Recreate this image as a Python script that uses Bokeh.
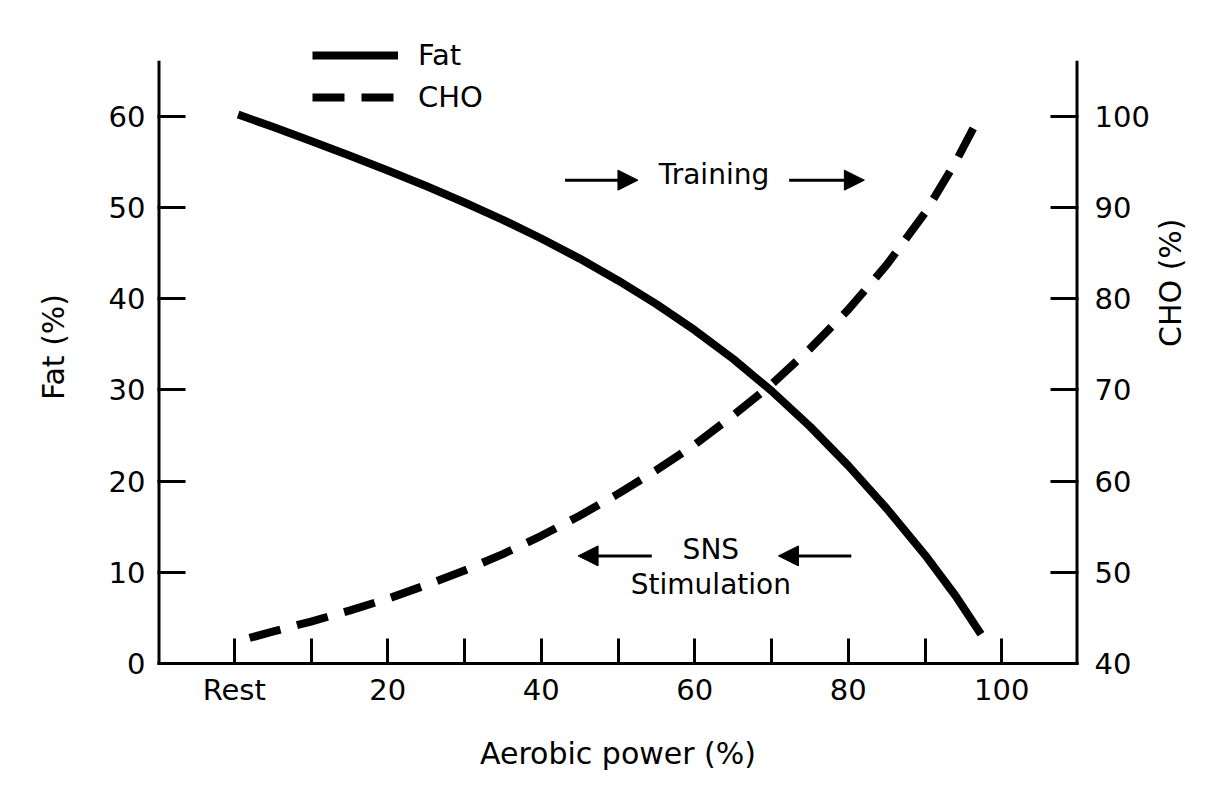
import math
from bokeh.plotting import figure
from bokeh.models import (Range1d, LinearAxis, FixedTicker, Arrow, NormalHead,
                          Label, Legend, LegendItem, ColumnDataSource)
from bokeh.embed import file_html
from bokeh.resources import INLINE

# ---- data ----
fat_x = [0.5, 5, 10, 15, 20, 25, 30, 35, 40, 45, 50, 55, 60, 65, 70, 75, 80, 85, 90, 94, 97.3]
fat_pct = [60.2, 58.85, 57.3, 55.7, 54.05, 52.35, 50.55, 48.65, 46.6, 44.4, 42.0, 39.4, 36.55,
           33.4, 29.9, 26.0, 21.7, 17.0, 11.9, 7.4, 3.2]
cho_x = [2, 5, 10, 15, 20, 25, 30, 35, 40, 45, 50, 55, 60, 65, 70, 75, 80, 85, 90, 94, 97.3]
cho_pct = [42.8, 43.5, 44.6, 45.8, 47.1, 48.6, 50.2, 52.0, 54.0, 56.2, 58.6, 61.2, 64.0, 67.2,
           70.6, 74.5, 78.8, 83.7, 89.4, 95.0, 100.3]
x_ticks = [0, 10, 20, 30, 40, 50, 60, 70, 80, 90, 100]
x_tick_labels = {0: "Rest", 10: "", 20: "20", 30: "", 40: "40", 50: "", 60: "60",
                 70: "", 80: "80", 90: "", 100: "100"}
fat_ticks = [0, 10, 20, 30, 40, 50, 60]
cho_ticks = [40, 50, 60, 70, 80, 90, 100]

FONT = "DejaVu Sans"
X0, X1 = -10, 110
FAT_TOP = 66.1          # where the drawn y axis lines end
FAT_RANGE = (0, 69.41)
CHO_RANGE = (40, 109.41)

p = figure(width=1228, height=805, output_backend="svg", toolbar_location=None,
           x_range=Range1d(X0, X1), y_range=Range1d(*FAT_RANGE),
           min_border_left=157, min_border_right=150, min_border_top=30, min_border_bottom=142)
p.extra_y_ranges = {"cho": Range1d(*CHO_RANGE)}
p.xgrid.visible = False
p.ygrid.visible = False
p.outline_line_color = None
p.background_fill_color = "white"
p.border_fill_color = "white"


def style(ax, tick_in):
    ax.axis_line_width = 3
    ax.axis_line_color = "black"
    ax.major_tick_line_width = 3
    ax.major_tick_line_color = "black"
    ax.major_tick_in = tick_in
    ax.major_tick_out = 0
    ax.minor_tick_in = 0
    ax.minor_tick_out = 0
    ax.major_label_text_font = FONT
    ax.major_label_text_font_size = "29px"
    ax.major_label_text_color = "black"
    ax.axis_label_text_font = FONT
    ax.axis_label_text_font_size = "30px"
    ax.axis_label_text_font_style = "normal"
    ax.axis_label_text_color = "black"


xa = p.xaxis[0]
style(xa, 25)
xa.ticker = FixedTicker(ticks=x_ticks)
xa.major_label_overrides = x_tick_labels
xa.axis_label = "Aerobic power (%)"
xa.major_label_standoff = 9
xa.axis_label_standoff = 26

ya = p.yaxis[0]
style(ya, 28)
ya.axis_line_color = None
ya.ticker = FixedTicker(ticks=fat_ticks)
ya.axis_label = "Fat (%)"
ya.major_label_standoff = 12
ya.axis_label_standoff = 35

ra = LinearAxis(y_range_name="cho")
style(ra, 28)
ra.axis_line_color = None
ra.ticker = FixedTicker(ticks=cho_ticks)
ra.axis_label = "CHO (%)"
ra.major_label_standoff = 16
ra.axis_label_standoff = 18
ra.axis_label_orientation = math.pi / 2
p.add_layout(ra, "right")

# vertical axis lines that stop below the legend (half of width clipped at frame edge)
p.segment(x0=[X0, X1], y0=[0, 0], x1=[X0, X1], y1=[FAT_TOP, FAT_TOP],
          line_width=6, line_color="black")

fat_src = ColumnDataSource(dict(x=fat_x, y=fat_pct))
cho_src = ColumnDataSource(dict(x=cho_x, y=cho_pct))
fat_r = p.line("x", "y", source=fat_src, line_width=8, line_color="black", line_join="round")
cho_r = p.line("x", "y", source=cho_src, line_width=8, line_color="black",
               line_dash="32 17", y_range_name="cho")

legend = Legend(items=[LegendItem(label="Fat", renderers=[fat_r]),
                       LegendItem(label="CHO", renderers=[cho_r])],
                location=(155, 549), glyph_width=86, glyph_height=34,
                label_text_font=FONT, label_text_font_size="29px", label_standoff=20,
                label_text_color="black",
                spacing=8, padding=0, margin=0, background_fill_alpha=0,
                border_line_color=None)
p.add_layout(legend)


def arrow(x0, x1, y):
    p.add_layout(Arrow(x_start=x0, y_start=y, x_end=x1, y_end=y, line_width=3,
                       line_color="black",
                       end=NormalHead(size=20, fill_color="black", line_color="black",
                                      line_width=1)))


arrow(43.1, 52.6, 53.0)
arrow(72.3, 82.1, 53.0)
arrow(54.4, 44.8, 11.8)
arrow(80.4, 70.9, 11.8)

for txt, x, y in [("Training", 62.5, 53.6), ("SNS", 62.1, 12.5), ("Stimulation", 62.1, 8.7)]:
    p.add_layout(Label(x=x, y=y, text=txt, text_align="center", text_baseline="alphabetic",
                       text_font=FONT, text_font_size="28px", text_color="black"))

open("out.html", "w").write(file_html(p, INLINE))
